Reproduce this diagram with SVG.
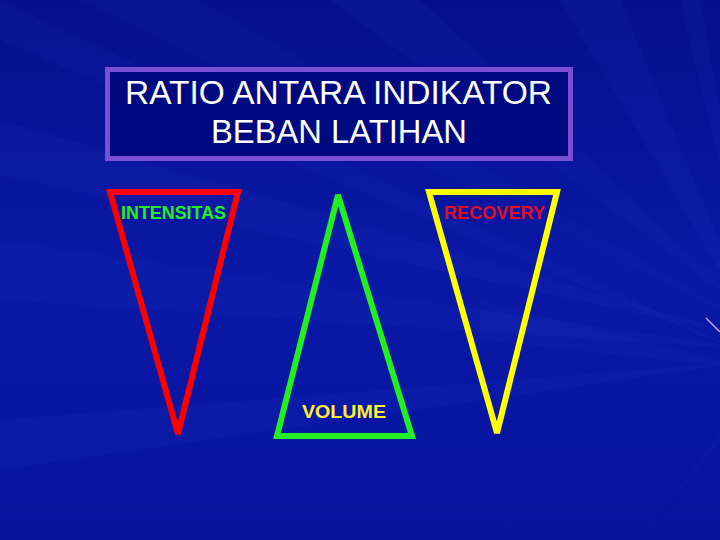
<svg xmlns="http://www.w3.org/2000/svg" width="720" height="540" viewBox="0 0 720 540">
<style>
.lbl{font-family:"Liberation Sans",Arial,sans-serif;font-weight:bold;font-size:17.5px}
.title{font-family:"Liberation Sans",Arial,sans-serif;font-size:33px;fill:#ffffff;text-anchor:middle}
.tri{fill:none;stroke-width:6;stroke-linejoin:miter;stroke-miterlimit:2}
</style>
<defs>
<linearGradient id="bg" x1="0" y1="0" x2="0" y2="1">
<stop offset="0" stop-color="#06108c"/>
<stop offset="0.5" stop-color="#0a18a6"/>
<stop offset="1" stop-color="#0814a0"/>
</linearGradient>
</defs>
<rect x="0" y="0" width="720" height="540" fill="url(#bg)"/>
<g id="streaks" fill="#3050e0">
<polygon points="760,360 0,0 0,40" opacity="0.07"/>
<polygon points="760,340 0,120 0,175" opacity="0.08"/>
<polygon points="760,350 0,240 0,300" opacity="0.07"/>
<polygon points="760,330 80,0 200,0" opacity="0.05"/>
<polygon points="760,320 330,0 420,0" opacity="0.06"/>
<polygon points="760,340 560,0 620,0" opacity="0.08"/>
<polygon points="760,360 0,420 0,470" opacity="0.07"/>
<polygon points="760,380 720,440 640,540" opacity="0.06"/>
<polygon points="760,370 480,300 480,340" opacity="0.07"/>
<polygon points="760,330 680,0 700,0" opacity="0.08"/>
</g>
<line x1="706" y1="318" x2="720" y2="332" stroke="#c0a0ff" stroke-width="1.5"/>
<g id="title">
<rect x="107.5" y="69.5" width="463" height="89" fill="#000a80" stroke="#7b4fd3" stroke-width="5"/>
<text class="title" x="338.5" y="104" textLength="427" lengthAdjust="spacingAndGlyphs">RATIO ANTARA INDIKATOR</text>
<text class="title" x="339" y="143" textLength="256" lengthAdjust="spacingAndGlyphs">BEBAN LATIHAN</text>
</g>
<g id="intensitas">
<polygon class="tri" points="110,192 238,192 178,434" stroke="#ff0000"/>
<text class="lbl" x="121" y="219" fill="#22ee22" textLength="105" lengthAdjust="spacingAndGlyphs">INTENSITAS</text>
</g>
<g id="volume">
<polygon class="tri" points="338,195 412,436 277,436" stroke="#22ee22"/>
<text class="lbl" x="302" y="418" fill="#ffee33" textLength="84" lengthAdjust="spacingAndGlyphs">VOLUME</text>
</g>
<g id="recovery">
<polygon class="tri" points="429,192 557,192 497,433" stroke="#ffff00"/>
<text class="lbl" x="444" y="219" fill="#e01020" textLength="101" lengthAdjust="spacingAndGlyphs">RECOVERY</text>
</g>
<g id="connectors"/>
</svg>
